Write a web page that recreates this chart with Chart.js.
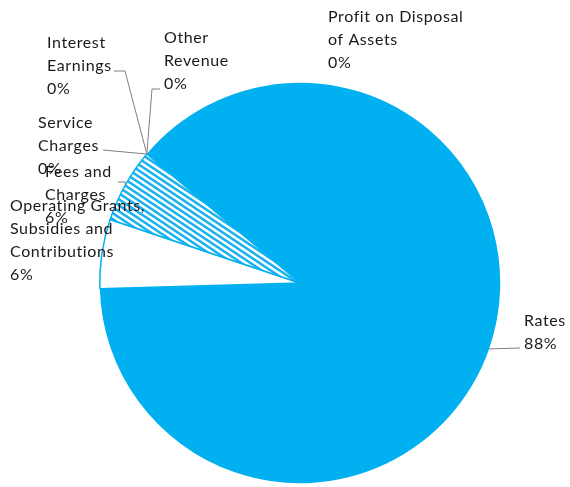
<!DOCTYPE html>
<html>
<head>
<meta charset="utf-8">
<script src="https://cdn.jsdelivr.net/npm/chart.js@4.4.0/dist/chart.umd.min.js"></script>
<style>
  body { margin: 0; background: #fff; }
  #wrap { width: 570px; height: 487px; }
</style>
</head>
<body>
<div id="wrap"><canvas id="pie" width="570" height="487"></canvas></div>
<script>
// data (percent of total revenue)
const categories = [
    ['Rates'],
    ['Operating Grants,', 'Subsidies and', 'Contributions'],
    ['Fees and', 'Charges'],
    ['Service', 'Charges'],
    ['Interest', 'Earnings'],
    ['Other', 'Revenue'],
    ['Profit on Disposal', 'of Assets']
];
const values = [88.4, 5.6, 6.0, 0, 0, 0, 0];

// label layout: text position + leader line bend points (anchor comes from the arc)
const labelPos = [
    { x: 524, y: 321, bend: [[520, 348]] },
    { x: 10, y: 206, bend: null },
    { x: 45, y: 172, bend: [[118, 182], [125, 182]] },
    { x: 38, y: 123, bend: [[103, 150]] },
    { x: 47, y: 43, bend: [[114, 71], [125, 71]] },
    { x: 164, y: 38, bend: [[160, 89], [152, 89]] },
    { x: 328, y: 17, bend: null }
];

const blue = '#00B0F0';

// hatch pattern for fees slice
let tile = document.createElement('canvas');
tile.width = 9; tile.height = 6;
let tc = tile.getContext('2d');
tc.fillStyle = '#fff';
tc.fillRect(0, 0, 9, 6);
tc.strokeStyle = '#1AB3F0';
tc.lineWidth = 2.6;
tc.beginPath();
for (let k = -2; k <= 2; k++) {
    tc.moveTo(-9, -6 + k * 6);
    tc.lineTo(18, 12 + k * 6);
}
tc.stroke();
const hatch = document.getElementById('pie').getContext('2d').createPattern(tile, 'repeat');

const total = values.reduce((a, b) => a + b, 0);

const pieLabels = {
    id: 'pieLabels',
    afterDraw(chart) {
        const ctx = chart.ctx;
        const meta = chart.getDatasetMeta(0);
        ctx.save();
        ctx.font = '16px Lato';
        ctx.letterSpacing = '0.6px';
        ctx.textBaseline = 'middle';
        ctx.fillStyle = '#1a1a1a';
        ctx.strokeStyle = '#808080';
        ctx.lineWidth = 1;
        meta.data.forEach((arc, i) => {
            const p = labelPos[i];
            if (p.bend) {
                const mid = (arc.startAngle + arc.endAngle) / 2;
                const ax = arc.x + arc.outerRadius * Math.cos(mid);
                const ay = arc.y + arc.outerRadius * Math.sin(mid);
                ctx.beginPath();
                ctx.moveTo(p.bend[0][0], p.bend[0][1]);
                for (let k = 1; k < p.bend.length; k++) ctx.lineTo(p.bend[k][0], p.bend[k][1]);
                ctx.lineTo(ax, ay);
                ctx.stroke();
            }
            const lines = categories[i].concat([Math.round(values[i] / total * 100) + '%']);
            lines.forEach((t, k) => ctx.fillText(t, p.x, p.y + k * 23));
        });
        ctx.restore();
    }
};

const ctxPie = document.getElementById('pie').getContext('2d');
let chartPie = new Chart(ctxPie, {
    type: 'pie',
    data: {
        labels: categories,
        datasets: [{
            data: values,
            backgroundColor: [blue, '#ffffff', hatch, blue, blue, blue, blue],
            borderColor: blue,
            borderWidth: [0, 1.5, 1.5, 0, 0, 0, 0]
        }]
    },
    options: {
        responsive: false,
        animation: false,
        devicePixelRatio: 1,
        rotation: -49.9,
        layout: { padding: { top: 82, bottom: 3, left: 99, right: 69 } },
        plugins: {
            legend: { display: false },
            tooltip: { enabled: false }
        }
    },
    plugins: [pieLabels]
});
</script>
</body>
</html>
